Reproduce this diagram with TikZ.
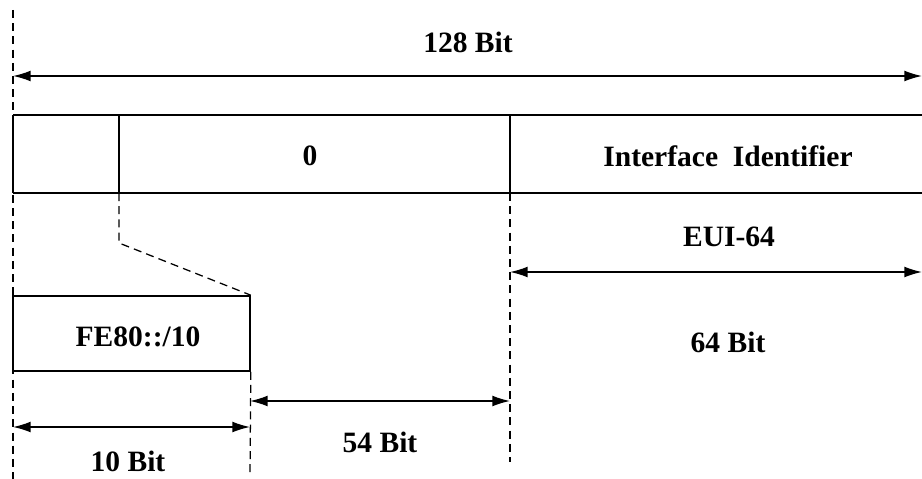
\documentclass[tikz,border=0pt]{standalone}
\usepackage{fontspec}
\setmainfont{Liberation Serif}
\usetikzlibrary{arrows.meta}
\tikzset{lbl/.style={font=\fontsize{21}{25}\selectfont\bfseries,inner sep=0pt},
  dimline/.style={{Latex[length=4.4mm,width=2.7mm]}-{Latex[length=4.4mm,width=2.7mm]},line width=1pt},
  guide/.style={dash pattern=on 2mm off 1.3mm,line width=.9pt},
  frame/.style={line width=1.1pt}}
\begin{document}
\begin{tikzpicture}[x=.025cm,y=-.025cm]
\useasboundingbox (0,0) rectangle (922,479);
\coordinate (top) at (13,10);\coordinate (bot) at (13,479);
\coordinate (rtl) at (13,115);\coordinate (rtr) at (922,115);\coordinate (rbl) at (13,193);\coordinate (rbr) at (922,193);
\coordinate (d1t) at (119,115);\coordinate (d1b) at (119,193);\coordinate (d2t) at (510,115);\coordinate (d2b) at (510,193);
\coordinate (bend) at (119,243);\coordinate (d2e) at (510,462);\coordinate (feb) at (250,477);
\node[draw,frame,minimum width=5.925cm,minimum height=1.875cm,inner sep=0pt] (fe) at (131.5,333.5) {};
\node[lbl] (felab) at (138,337) {FE80::/10};
\draw[guide] (top) -- (bot);
\draw[guide] (d1b) -- (bend) -- (fe.north east);
\draw[guide] (fe.south east) -- (feb);\draw[guide] (d2b) -- (d2e);
\draw[frame] (rtl) -- (rtr) (rbl) -- (rbr) (rtl) -- (rbl) (d1t) -- (d1b) (d2t) -- (d2b);
\foreach \nm/\xa/\xb/\y in {all/13/922/76,eui/510/922/272,low/250/510/401,pre/13/250/427}{\coordinate (\nm a) at (\xa,\y);\coordinate (\nm b) at (\xb,\y);\draw[dimline] (\nm a) -- (\nm b);}
\node[lbl] (t128) at (468,42) {128 Bit};
\node[lbl] (zero) at (310,156) {0};
\node[lbl] (iid) at (728,156) {Interface\enspace Identifier};
\node[lbl] (eui) at (729,237) {EUI-64};
\node[lbl] (t64) at (728,342) {64 Bit};
\node[lbl] (t54) at (380,442) {54 Bit};
\node[lbl] (t10) at (128,461) {10 Bit};
\end{tikzpicture}
\end{document}
